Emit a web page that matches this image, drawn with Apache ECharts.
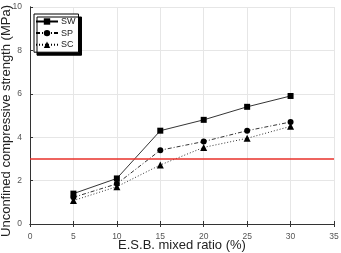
<!DOCTYPE html>
<html>
<head>
<meta charset="utf-8">
<script src="https://cdn.jsdelivr.net/npm/echarts@6/dist/echarts.min.js"></script>
<style>
    html, body { margin: 0; padding: 0; background: #fff; }
    #chart { width: 341px; height: 253px; }
</style>
</head>
<body>
<div id="chart"></div>
<script>
    // 数据
    var ratios = [5, 10, 15, 20, 25, 30];
    var swValues = [1.4, 2.1, 4.3, 4.8, 5.4, 5.9];
    var spValues = [1.23, 1.85, 3.4, 3.8, 4.3, 4.7];
    var scValues = [1.08, 1.72, 2.72, 3.53, 3.95, 4.5];
    var criterion = 3;

    function pairs(vals) {
        var out = [];
        for (var i = 0; i < ratios.length; i++) {
            out.push([ratios[i], vals[i]]);
        }
        return out;
    }

    var myChart = echarts.init(document.getElementById('chart'));
    var labelFont = {color: '#555', fontSize: 8.5, fontFamily: 'Liberation Sans'};
    var option = {
        animation: false,
        grid: {left: 30, right: 7, top: 7, bottom: 29, containLabel: false, outerBoundsMode: 'none'},
        legend: {
            left: 34, top: 14,
            orient: 'vertical',
            itemWidth: 22, itemHeight: 8, itemGap: 2.6,
            padding: [3, 3, 3, 1],
            backgroundColor: '#fff',
            borderColor: '#000', borderWidth: 1,
            shadowColor: '#000', shadowBlur: 0, shadowOffsetX: 3, shadowOffsetY: 3,
            textStyle: {fontSize: 9, color: '#222', fontFamily: 'Liberation Sans', padding: [0, 0, 0, -2]},
            data: ['SW', 'SP', 'SC']
        },
        xAxis: [{
            type: 'value', min: 0, max: 35, interval: 5,
            name: 'E.S.B. mixed ratio (%)', nameLocation: 'middle', nameGap: 15, nameMoveOverlap: false,
            nameTextStyle: {fontSize: 13, color: '#222', fontFamily: 'Liberation Sans'},
            axisLine: {lineStyle: {color: '#333'}},
            axisTick: {inside: true, length: 3, lineStyle: {color: '#333'}},
            axisLabel: labelFont,
            splitLine: {lineStyle: {color: '#e6e6e6'}}
        }, {
            type: 'value', position: 'top', min: 0, max: 35, interval: 5,
            axisLine: {show: true, lineStyle: {color: '#333'}},
            axisTick: {show: true, inside: true, length: 3, lineStyle: {color: '#333'}},
            axisLabel: {show: false},
            splitLine: {show: false}
        }],
        yAxis: [{
            type: 'value', min: 0, max: 10, interval: 2,
            name: 'Unconfined compressive strength (MPa)', nameLocation: 'middle', nameGap: 17, nameMoveOverlap: false,
            nameTextStyle: {fontSize: 13, color: '#222', fontFamily: 'Liberation Sans', padding: [0, 11, 0, 0]},
            axisLine: {show: true, lineStyle: {color: '#333'}},
            axisTick: {show: true, inside: true, length: 3, lineStyle: {color: '#333'}},
            axisLabel: labelFont,
            splitLine: {lineStyle: {color: '#e6e6e6'}}
        }, {
            type: 'value', position: 'right', min: 0, max: 10, interval: 2,
            axisLine: {show: true, lineStyle: {color: '#333'}},
            axisTick: {show: false},
            axisLabel: {show: false},
            splitLine: {show: false}
        }],
        series: [{
            name: 'SW', type: 'line', data: pairs(swValues),
            symbol: 'rect', symbolSize: 6,
            itemStyle: {color: '#000'},
            lineStyle: {color: '#000', width: 0.8, type: 'solid'},
            markLine: {
                silent: true, symbol: 'none', label: {show: false},
                lineStyle: {color: '#e8302a', width: 1.5, type: 'solid'},
                data: [{yAxis: criterion}]
            }
        }, {
            name: 'SP', type: 'line', data: pairs(spValues),
            symbol: 'circle', symbolSize: 6,
            itemStyle: {color: '#000'},
            lineStyle: {color: '#000', width: 0.8, type: [4, 2, 1, 2]}
        }, {
            name: 'SC', type: 'line', data: pairs(scValues),
            symbol: 'triangle', symbolSize: 7,
            itemStyle: {color: '#000'},
            lineStyle: {color: '#000', width: 0.8, type: [1, 2]}
        }]
    };
    myChart.setOption(option);
</script>
</body>
</html>
